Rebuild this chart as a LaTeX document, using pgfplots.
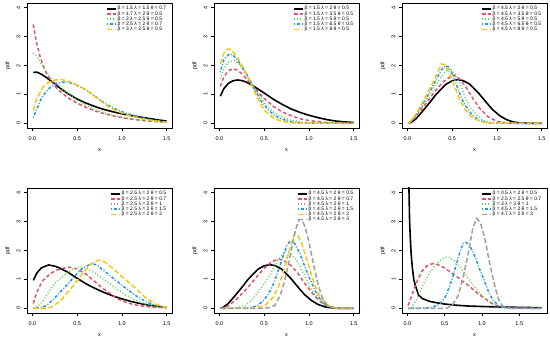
\documentclass[border=0pt]{standalone}
\usepackage{pgfplots}
\pgfplotsset{compat=1.18}
\usepackage{fontspec}
\setmainfont{Liberation Sans}
\definecolor{rred}{HTML}{DF536B}
\definecolor{rgreen}{HTML}{61D04F}
\definecolor{rblue}{HTML}{2297E6}
\definecolor{ryellow}{HTML}{F5C710}
\definecolor{rgray}{HTML}{9E9E9E}
\pgfplotsset{
 rstyle/.style={
  scale only axis, width=145bp, height=125bp, anchor=south west,
  xmin=-0.06, xmax=1.56, ymin=-0.16, ymax=4.16,
  xtick={0,0.5,1,1.5}, xticklabels={0.0,0.5,1.0,1.5},
  ytick={0,1,2,3,4},
  tick align=outside, tick pos=left, major tick length=3bp,
  axis line style={line width=0.5bp},
  every tick/.style={black,line width=0.5bp},
  tick label style={font=\fontsize{5.5}{6}\selectfont},
  /pgf/number format/assume math mode=true,
  xticklabel style={yshift=-2.5bp},
  yticklabel style={rotate=90, anchor=south},
  xlabel={x}, ylabel={pdf},
  label style={font=\fontsize{5.5}{6}\selectfont},
  xlabel style={at={(axis description cs:0.5,0)}, anchor=center, yshift=-22bp},
  ylabel style={at={(axis description cs:0,0.5)}, anchor=center, yshift=19bp},
  legend style={draw=none, fill=none, font=\fontsize{5}{5}\selectfont,
    at={(1,1)}, anchor=north east, xshift=-2bp, yshift=-0.5bp,
    row sep=-1.2bp, nodes={inner sep=0.6bp}},
  legend image code/.code={\draw[##1] (0bp,0bp) -- (9bp,0bp);},
  legend cell align=left,
 },
 c1/.style={black, line width=1.6bp, solid},
 c2/.style={rred, line width=1.5bp, dash pattern=on 3.5bp off 2.5bp},
 c3/.style={rgreen, line width=1.5bp, dash pattern=on 0.9bp off 2.2bp},
 c4/.style={rblue, line width=1.5bp, dash pattern=on 0.9bp off 1.8bp on 3bp off 1.8bp},
 c5/.style={ryellow, line width=1.5bp, dash pattern=on 5bp off 2.5bp},
 c6/.style={rgray, line width=1.5bp, dash pattern=on 5bp off 2.5bp},
}
\begin{document}
\begin{tikzpicture}
\useasboundingbox (0bp,0bp) rectangle (550bp,340bp);
% ---------- Panel 1
\begin{axis}[rstyle, at={(27bp,212bp)}]
\addplot[c1] coordinates {(0.01,1.76) (0.05,1.77) (0.1,1.7) (0.15,1.6) (0.2,1.48) (0.25,1.37) (0.3,1.24) (0.4,1.02) (0.5,0.84) (0.6,0.7) (0.7,0.58) (0.8,0.48) (0.9,0.4) (1.0,0.33) (1.1,0.27) (1.2,0.22) (1.3,0.17) (1.4,0.12) (1.5,0.08)};
\addlegendentry{β = 1.5 λ = 1.5 θ = 0.7}
\addplot[c2] coordinates {(0.01,3.42) (0.03,3.05) (0.05,2.75) (0.087,2.3) (0.12,2.0) (0.16,1.72) (0.2,1.52) (0.255,1.28) (0.3,1.13) (0.4,0.88) (0.5,0.7) (0.6,0.55) (0.7,0.43) (0.8,0.34) (0.9,0.26) (1.0,0.2) (1.1,0.15) (1.2,0.11) (1.3,0.08) (1.4,0.06) (1.5,0.04)};
\addlegendentry{β = 1.7 λ = 2 θ = 0.5}
\addplot[c3] coordinates {(0.01,2.43) (0.05,2.3) (0.087,2.12) (0.15,1.82) (0.2,1.6) (0.3,1.29) (0.4,1.02) (0.5,0.8) (0.6,0.62) (0.7,0.48) (0.8,0.37) (0.9,0.28) (1.0,0.21) (1.1,0.15) (1.2,0.11) (1.3,0.08) (1.4,0.05) (1.5,0.04)};
\addlegendentry{β = 2 λ = 2.5 θ = 0.5}
\addplot[c4] coordinates {(0.01,0.2) (0.05,0.5) (0.09,0.8) (0.15,1.08) (0.2,1.24) (0.25,1.34) (0.3,1.4) (0.37,1.44) (0.45,1.38) (0.57,1.21) (0.65,1.05) (0.76,0.8) (0.85,0.62) (0.95,0.46) (1.05,0.35) (1.14,0.27) (1.25,0.18) (1.35,0.11) (1.5,0.05)};
\addlegendentry{β = 2.5 λ = 2 θ = 0.7}
\addplot[c5] coordinates {(0.01,0.45) (0.05,0.86) (0.12,1.26) (0.18,1.42) (0.24,1.49) (0.31,1.52) (0.38,1.48) (0.45,1.4) (0.55,1.24) (0.65,1.05) (0.76,0.78) (0.85,0.58) (0.95,0.42) (1.05,0.3) (1.14,0.22) (1.25,0.14) (1.35,0.09) (1.5,0.04)};
\addlegendentry{β = 3 λ = 2.5 θ = 0.5}
\end{axis}
% ---------- Panel 2
\begin{axis}[rstyle, at={(214bp,212bp)}]
\addplot[c1] coordinates {(0.01,0.94) (0.05,1.2) (0.1,1.38) (0.15,1.47) (0.2,1.5) (0.25,1.48) (0.3,1.43) (0.37,1.31) (0.45,1.15) (0.5,1.05) (0.61,0.82) (0.7,0.66) (0.8,0.5) (0.9,0.38) (1.0,0.28) (1.1,0.2) (1.2,0.13) (1.3,0.08) (1.4,0.05) (1.5,0.03)};
\addlegendentry{β = 1.5 λ = 2 θ = 0.5}
\addplot[c2] coordinates {(0.01,1.28) (0.05,1.6) (0.1,1.82) (0.15,1.89) (0.2,1.84) (0.25,1.72) (0.3,1.55) (0.37,1.31) (0.45,1.02) (0.5,0.86) (0.61,0.57) (0.7,0.4) (0.83,0.23) (0.9,0.16) (1.0,0.1) (1.1,0.06) (1.2,0.03) (1.3,0.02) (1.5,0.01)};
\addlegendentry{β = 1.5 λ = 3.5 θ = 0.5}
\addplot[c3] coordinates {(0.01,1.54) (0.05,1.9) (0.1,2.12) (0.17,2.17) (0.22,2.05) (0.3,1.7) (0.37,1.31) (0.45,0.93) (0.54,0.57) (0.62,0.36) (0.7,0.22) (0.8,0.11) (0.9,0.05) (1.0,0.02) (1.1,0.01) (1.5,0.0)};
\addlegendentry{β = 1.5 λ = 5 θ = 0.5}
\addplot[c4] coordinates {(0.01,1.77) (0.05,2.2) (0.11,2.4) (0.15,2.37) (0.2,2.2) (0.3,1.72) (0.37,1.31) (0.46,0.8) (0.55,0.45) (0.62,0.27) (0.7,0.14) (0.8,0.06) (0.9,0.02) (1.0,0.01) (1.5,0)};
\addlegendentry{β = 1.5 λ = 6.5 θ = 0.5}
\addplot[c5] coordinates {(0.01,2.06) (0.05,2.42) (0.09,2.57) (0.13,2.55) (0.2,2.3) (0.3,1.72) (0.37,1.25) (0.43,0.85) (0.5,0.46) (0.61,0.17) (0.72,0.06) (0.8,0.02) (0.9,0.01) (1.5,0)};
\addlegendentry{β = 1.5 λ = 8 θ = 0.5}
\end{axis}
% ---------- Panel 3
\begin{axis}[rstyle, at={(402bp,212bp)}]
\addplot[c1] coordinates {(0.01,0) (0.05,0.05) (0.1,0.17) (0.17,0.42) (0.25,0.72) (0.32,1.0) (0.43,1.35) (0.5,1.47) (0.56,1.51) (0.62,1.48) (0.69,1.37) (0.8,1.03) (0.88,0.73) (0.95,0.48) (1.03,0.27) (1.1,0.14) (1.18,0.05) (1.25,0.02) (1.35,0) (1.5,0)};
\addlegendentry{β = 4.5 λ = 2 θ = 0.5}
\addplot[c2] coordinates {(0.01,0) (0.05,0.08) (0.1,0.24) (0.2,0.65) (0.3,1.08) (0.4,1.44) (0.51,1.67) (0.58,1.55) (0.65,1.28) (0.72,0.92) (0.8,0.55) (0.9,0.23) (1.0,0.07) (1.1,0.02) (1.2,0) (1.5,0)};
\addlegendentry{β = 4.5 λ = 3.5 θ = 0.5}
\addplot[c3] coordinates {(0.01,0) (0.05,0.1) (0.1,0.28) (0.2,0.75) (0.3,1.25) (0.4,1.7) (0.46,1.9) (0.5,1.84) (0.55,1.62) (0.6,1.28) (0.64,0.95) (0.7,0.58) (0.79,0.23) (0.85,0.1) (0.9,0.05) (1.0,0.01) (1.5,0)};
\addlegendentry{β = 4.5 λ = 5 θ = 0.5}
\addplot[c4] coordinates {(0.01,0) (0.05,0.11) (0.1,0.31) (0.2,0.82) (0.3,1.38) (0.38,1.85) (0.42,2.0) (0.46,1.95) (0.52,1.6) (0.57,1.15) (0.63,0.7) (0.72,0.3) (0.8,0.1) (0.9,0.02) (1.0,0) (1.5,0)};
\addlegendentry{β = 4.5 λ = 6.5 θ = 0.5}
\addplot[c5] coordinates {(0.01,0) (0.05,0.12) (0.1,0.34) (0.2,0.9) (0.3,1.5) (0.35,1.85) (0.38,2.06) (0.42,2.02) (0.47,1.75) (0.53,1.26) (0.58,0.85) (0.64,0.5) (0.7,0.27) (0.76,0.14) (0.85,0.04) (0.95,0.01) (1.5,0)};
\addlegendentry{β = 4.5 λ = 8 θ = 0.5}
\end{axis}
% ---------- Panel 4
\begin{axis}[rstyle, at={(27bp,27bp)}]
\addplot[c1] coordinates {(0.01,0.97) (0.05,1.22) (0.1,1.4) (0.18,1.5) (0.25,1.46) (0.3,1.4) (0.4,1.24) (0.5,1.04) (0.6,0.85) (0.7,0.69) (0.8,0.55) (0.9,0.43) (1.0,0.33) (1.1,0.24) (1.2,0.17) (1.3,0.11) (1.4,0.07) (1.5,0.04)};
\addlegendentry{β = 2.5 λ = 2 θ = 0.5}
\addplot[c2] coordinates {(0.01,0.17) (0.03,0.38) (0.07,0.7) (0.12,0.97) (0.2,1.2) (0.27,1.32) (0.4,1.43) (0.5,1.36) (0.6,1.18) (0.7,0.92) (0.76,0.76) (0.85,0.55) (0.95,0.33) (1.05,0.2) (1.15,0.12) (1.25,0.07) (1.35,0.04) (1.5,0.02)};
\addlegendentry{β = 2.5 λ = 2 θ = 0.7}
\addplot[c3] coordinates {(0.01,0.0) (0.05,0.05) (0.09,0.15) (0.15,0.42) (0.23,0.79) (0.3,1.0) (0.38,1.2) (0.45,1.36) (0.53,1.43) (0.6,1.4) (0.7,1.22) (0.8,1.0) (0.87,0.85) (0.95,0.65) (1.05,0.45) (1.2,0.21) (1.3,0.11) (1.4,0.05) (1.5,0.02)};
\addlegendentry{β = 2.5 λ = 2 θ = 1}
\addplot[c4] coordinates {(0.01,0) (0.1,0.03) (0.16,0.1) (0.23,0.3) (0.31,0.56) (0.4,0.85) (0.46,1.08) (0.55,1.36) (0.66,1.55) (0.72,1.5) (0.8,1.3) (0.94,0.95) (1.05,0.68) (1.15,0.45) (1.28,0.21) (1.4,0.08) (1.5,0.03)};
\addlegendentry{β = 2.5 λ = 2 θ = 1.5}
\addplot[c5] coordinates {(0.01,0) (0.15,0.01) (0.2,0.03) (0.3,0.22) (0.38,0.5) (0.46,0.8) (0.53,1.08) (0.64,1.49) (0.7,1.63) (0.76,1.67) (0.82,1.58) (0.9,1.38) (1.0,1.1) (1.05,0.97) (1.15,0.7) (1.28,0.33) (1.37,0.15) (1.46,0.06) (1.5,0.04)};
\addlegendentry{β = 2.5 λ = 2 θ = 2}
\end{axis}
% ---------- Panel 5
\begin{axis}[rstyle, at={(214bp,27bp)}]
\addplot[c1] coordinates {(0.01,0) (0.05,0.05) (0.1,0.17) (0.17,0.42) (0.25,0.72) (0.32,1.0) (0.43,1.35) (0.5,1.47) (0.56,1.51) (0.62,1.48) (0.69,1.37) (0.8,1.03) (0.88,0.73) (0.95,0.48) (1.03,0.27) (1.1,0.14) (1.18,0.05) (1.25,0.02) (1.35,0) (1.5,0)};
\addlegendentry{β = 4.5 λ = 2 θ = 0.5}
\addplot[c2] coordinates {(0.01,0) (0.05,0.02) (0.1,0.09) (0.15,0.21) (0.2,0.34) (0.25,0.5) (0.32,0.73) (0.43,1.14) (0.5,1.38) (0.58,1.6) (0.66,1.71) (0.72,1.66) (0.8,1.48) (0.88,1.2) (0.95,0.88) (1.0,0.68) (1.07,0.4) (1.15,0.18) (1.22,0.07) (1.3,0.02) (1.4,0) (1.5,0)};
\addlegendentry{β = 4.5 λ = 2 θ = 0.7}
\addplot[c3] coordinates {(0.01,0) (0.15,0.01) (0.2,0.03) (0.29,0.1) (0.36,0.28) (0.43,0.56) (0.5,0.85) (0.55,1.08) (0.62,1.45) (0.68,1.78) (0.74,1.97) (0.8,1.9) (0.87,1.62) (0.95,1.15) (1.02,0.7) (1.1,0.32) (1.18,0.11) (1.25,0.03) (1.35,0) (1.5,0)};
\addlegendentry{β = 4.5 λ = 2 θ = 1}
\addplot[c4] coordinates {(0.01,0) (0.3,0.01) (0.37,0.04) (0.43,0.1) (0.5,0.3) (0.55,0.5) (0.6,0.82) (0.64,1.14) (0.7,1.7) (0.75,2.15) (0.79,2.33) (0.84,2.25) (0.9,1.9) (0.96,1.4) (1.02,0.95) (1.1,0.42) (1.18,0.13) (1.25,0.04) (1.35,0) (1.5,0)};
\addlegendentry{β = 4.5 λ = 2 θ = 1.5}
\addplot[c5] coordinates {(0.01,0) (0.4,0.01) (0.51,0.1) (0.6,0.38) (0.66,0.75) (0.71,1.2) (0.75,1.66) (0.8,2.2) (0.84,2.58) (0.88,2.5) (0.93,2.15) (1.0,1.45) (1.06,0.85) (1.12,0.42) (1.2,0.13) (1.27,0.03) (1.35,0) (1.5,0)};
\addlegendentry{β = 4.5 λ = 2 θ = 2}
\addplot[c6] coordinates {(0.01,0) (0.5,0) (0.56,0.03) (0.62,0.1) (0.68,0.45) (0.73,0.96) (0.77,1.5) (0.81,2.12) (0.85,2.7) (0.89,3.07) (0.92,3.07) (0.96,2.8) (1.0,2.3) (1.05,1.55) (1.1,0.85) (1.15,0.37) (1.2,0.13) (1.25,0.04) (1.32,0) (1.5,0)};
\addlegendentry{β = 4.5 λ = 2 θ = 3}
\end{axis}
% ---------- Panel 6
\begin{axis}[rstyle, at={(402bp,27bp)}, xmin=-0.072, xmax=1.872]
\addplot[c1] coordinates {(0.01,9) (0.015,6) (0.02,4.3) (0.03,3.0) (0.04,2.4) (0.05,1.9) (0.065,1.45) (0.085,1.02) (0.1,0.85) (0.15,0.46) (0.2,0.34) (0.3,0.24) (0.38,0.2) (0.5,0.15) (0.65,0.11) (0.82,0.08) (1.0,0.065) (1.2,0.05) (1.4,0.04) (1.6,0.03) (1.8,0.025)};
\addlegendentry{β = 0.5 λ = 2 θ = 0.5}
\addplot[c2] coordinates {(0.01,0.1) (0.03,0.25) (0.06,0.44) (0.1,0.75) (0.15,1.05) (0.2,1.3) (0.27,1.48) (0.33,1.54) (0.4,1.52) (0.5,1.4) (0.64,1.14) (0.72,0.98) (0.82,0.79) (0.95,0.5) (1.08,0.27) (1.17,0.12) (1.25,0.06) (1.35,0.03) (1.5,0.01) (1.8,0)};
\addlegendentry{β = 2.5 λ = 2.5 θ = 0.7}
\addplot[c3] coordinates {(0.01,0) (0.05,0.02) (0.1,0.2) (0.15,0.45) (0.2,0.77) (0.3,1.25) (0.37,1.48) (0.44,1.65) (0.51,1.76) (0.56,1.76) (0.62,1.66) (0.7,1.45) (0.8,1.1) (0.9,0.75) (1.0,0.43) (1.1,0.2) (1.2,0.07) (1.3,0.02) (1.4,0) (1.8,0)};
\addlegendentry{β = 3 λ = 3 θ = 1}
\addplot[c4] coordinates {(0.01,0) (0.3,0.02) (0.4,0.1) (0.46,0.21) (0.52,0.45) (0.6,1.02) (0.66,1.55) (0.71,2.0) (0.75,2.25) (0.79,2.28) (0.84,2.15) (0.9,1.83) (0.97,1.35) (1.04,0.9) (1.1,0.5) (1.16,0.25) (1.22,0.1) (1.3,0.03) (1.4,0.01) (1.8,0)};
\addlegendentry{β = 4.5 λ = 2 θ = 1.5}
\addplot[c6] coordinates {(0.01,0) (0.5,0) (0.55,0.03) (0.6,0.1) (0.68,0.44) (0.75,1.1) (0.82,1.95) (0.88,2.8) (0.93,3.11) (0.98,2.95) (1.04,2.41) (1.1,1.6) (1.13,1.25) (1.18,0.7) (1.22,0.33) (1.27,0.1) (1.32,0.02) (1.4,0) (1.8,0)};
\addlegendentry{β = 4.7 λ = 2 θ = 3}
\end{axis}
\end{tikzpicture}
\end{document}
